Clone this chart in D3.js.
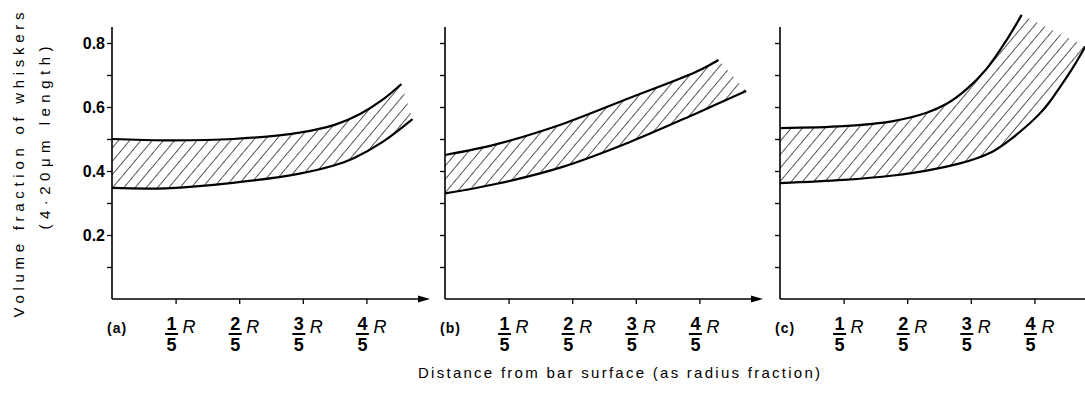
<!DOCTYPE html>
<html><head><meta charset="utf-8">
<script src="https://cdn.jsdelivr.net/npm/d3@7"></script>
<style>
html,body{margin:0;padding:0;background:#fff;}
text{font-family:"Liberation Sans","DejaVu Sans",sans-serif;fill:#000;}
</style></head>
<body><svg id="c" width="1085" height="396"></svg>
<script>
// ---- data ----
const panelLabels = ["(a)", "(b)", "(c)"];
const xTickValues = [0.2, 0.4, 0.6, 0.8];
const xTickNumerators = ["1", "2", "3", "4"];
const xTickDenominator = "5";
const yTickValues = [0.1, 0.2, 0.3, 0.4, 0.5, 0.6, 0.7, 0.8];
const yTickLabels = ["", "0.2", "", "0.4", "", "0.6", "", "0.8"];
// upper and lower bounds of the hatched band, [radius fraction, volume fraction]
const upperA = [[0,0.50],[0.17,0.496],[0.38,0.50],[0.59,0.52],[0.70,0.544],[0.78,0.578],[0.85,0.622],[0.91,0.672]];
const lowerA = [[0,0.347],[0.17,0.346],[0.38,0.363],[0.59,0.392],[0.70,0.418],[0.76,0.44],[0.85,0.49],[0.945,0.562]];
const upperB = [[0,0.45],[0.163,0.484],[0.37,0.547],[0.58,0.628],[0.79,0.71],[0.86,0.747]];
const lowerB = [[0,0.33],[0.163,0.36],[0.37,0.413],[0.58,0.49],[0.79,0.58],[0.947,0.65]];
const upperC = [[0,0.534],[0.2,0.54],[0.356,0.556],[0.461,0.582],[0.524,0.610],[0.587,0.656],[0.65,0.72],[0.713,0.81],[0.76,0.888]];
const lowerC = [[0,0.362],[0.2,0.372],[0.356,0.386],[0.461,0.401],[0.566,0.424],[0.619,0.44],[0.671,0.462],[0.723,0.497],[0.828,0.591],[0.881,0.663],[0.923,0.726],[0.96,0.789]];
const yTitle1 = "Volume fraction of whiskers";
const yTitle2 = "(4\u00b720\u03bcm length)";
const xTitle = "Distance from bar surface (as radius fraction)";

// ---- layout ----
const svg = d3.select("#c");
const panelX0 = [112, 445, 780];
const panelW = 318;
const y = d3.scaleLinear().domain([0, 0.8]).range([299, 43]);
const yTop = 0.85;

const defs = svg.append("defs");
defs.append("pattern").attr("id","hatch").attr("patternUnits","userSpaceOnUse")
  .attr("width",8.6).attr("height",10).attr("patternTransform","rotate(40)")
  .append("line").attr("x1",0).attr("y1",-2).attr("x2",0).attr("y2",12)
  .attr("stroke","#000").attr("stroke-width",1.3);

const bands = [[upperA, lowerA],[upperB, lowerB],[upperC, lowerC]];

panelX0.forEach((x0, i) => {
  const x = d3.scaleLinear().domain([0, 1]).range([x0, x0 + panelW]);
  const g = svg.append("g");
  const line = d3.line().x(d => x(d[0])).y(d => y(d[1])).curve(d3.curveCatmullRom.alpha(0.5));
  const [up, lo] = bands[i];
  const pTop = line(up);
  const pBotRev = line(lo.slice().reverse()).replace(/^M/, "L");
  g.append("path").attr("d", pTop + pBotRev + "Z").attr("fill","url(#hatch)").attr("stroke","none");
  g.append("path").attr("d", pTop).attr("fill","none").attr("stroke","#000").attr("stroke-width",2.2);
  g.append("path").attr("d", line(lo)).attr("fill","none").attr("stroke","#000").attr("stroke-width",2.2);

  // y axis
  const yAxis = d3.axisLeft(y).tickValues(yTickValues).tickSize(5).tickPadding(2)
    .tickFormat((d, k) => i === 0 ? yTickLabels[k] : "");
  const ya = g.append("g").attr("transform", `translate(${x0},0)`).call(yAxis);
  ya.select(".domain").remove();
  ya.selectAll(".tick line").attr("stroke","#000").attr("stroke-width",1.3);
  ya.selectAll(".tick text").attr("font-size",16).attr("font-weight","bold").attr("fill","#000")
    .style("font-family","'Liberation Sans',sans-serif");
  g.append("line").attr("x1",x0).attr("x2",x0).attr("y1",y(0)).attr("y2",y(yTop))
    .attr("stroke","#000").attr("stroke-width",1.6);

  // x axis
  const xAxis = d3.axisBottom(x).tickValues(xTickValues).tickSize(5).tickFormat("");
  const xa = g.append("g").attr("transform", `translate(0,${y(0)})`).call(xAxis);
  xa.select(".domain").remove();
  xa.selectAll(".tick line").attr("stroke","#000").attr("stroke-width",1.3);
  g.append("line").attr("x1",x0).attr("x2",x(1)-6).attr("y1",y(0)).attr("y2",y(0))
    .attr("stroke","#000").attr("stroke-width",1.6);
  g.append("path").attr("d",`M${x(1)},${y(0)}L${x(1)-12},${y(0)-3.5}L${x(1)-12},${y(0)+3.5}Z`).attr("fill","#000");

  // panel label
  g.append("text").attr("x", x0 - 5).attr("y", 333).attr("font-size",14).attr("font-weight","bold")
    .attr("letter-spacing",1).text(panelLabels[i]);

  // fraction tick labels
  xTickValues.forEach((v, k) => {
    const cx = x(v) - 4;
    g.append("text").attr("x",cx).attr("y",330).attr("text-anchor","middle")
      .attr("font-size",18).attr("font-weight","bold").text(xTickNumerators[k]);
    g.append("line").attr("x1",cx-6.5).attr("x2",cx+6.5).attr("y1",334).attr("y2",334)
      .attr("stroke","#000").attr("stroke-width",2);
    g.append("text").attr("x",cx).attr("y",351).attr("text-anchor","middle")
      .attr("font-size",18).attr("font-weight","bold").text(xTickDenominator);
    g.append("text").attr("x",cx+11).attr("y",333).attr("font-size",18)
      .attr("font-style","italic").text("R");
  });
});

// axis titles
svg.append("text").attr("transform","translate(24,165) rotate(-90)").attr("text-anchor","middle")
  .attr("font-size",15).attr("textLength",305).attr("lengthAdjust","spacing").text(yTitle1);
svg.append("text").attr("transform","translate(50,138) rotate(-90)").attr("text-anchor","middle")
  .attr("font-size",15).attr("textLength",183).attr("lengthAdjust","spacing").text(yTitle2);
svg.append("text").attr("x",619).attr("y",378).attr("text-anchor","middle")
  .attr("font-size",15).attr("textLength",402).attr("lengthAdjust","spacing").text(xTitle);
</script></body></html>
